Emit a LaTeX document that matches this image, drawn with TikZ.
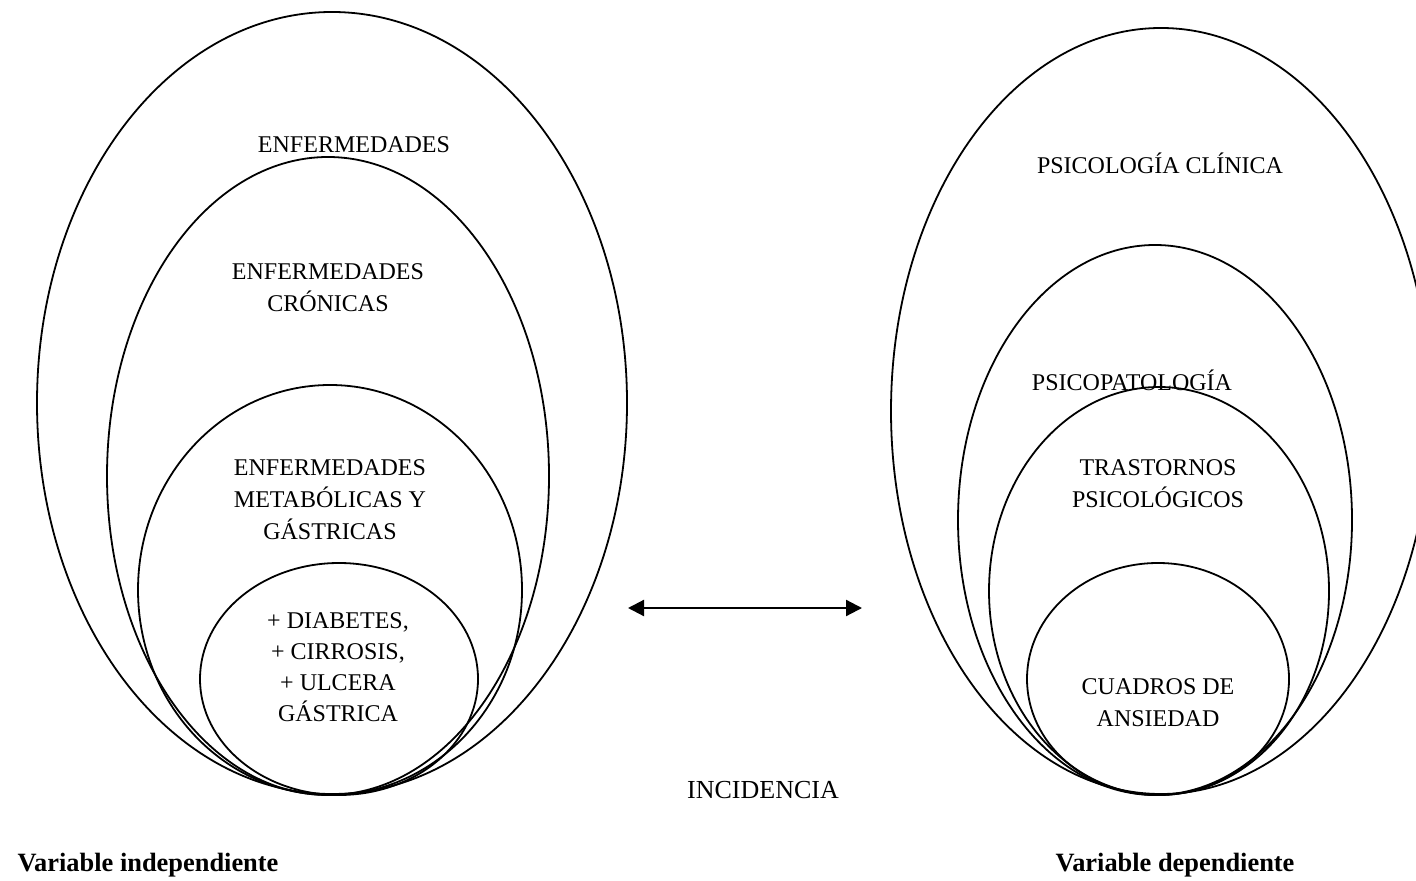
\documentclass[tikz,border=0pt]{standalone}
\usepackage{fontspec}
\setmainfont{Liberation Serif}
\usetikzlibrary{shapes.geometric,arrows.meta}
\tikzset{
  ell/.style={ellipse, draw, line width=0.9pt, inner sep=0pt, outer sep=0pt},
  lbl/.style={align=center, inner sep=0pt, font=\fontsize{12}{16}\selectfont},
  lbltight/.style={align=center, inner sep=0pt, font=\fontsize{12}{15.5}\selectfont},
  midlbl/.style={inner sep=0pt, font=\fontsize{13}{15}\selectfont},
  varlbl/.style={inner sep=0pt, font=\fontsize{13.2}{15}\selectfont\bfseries},
  dblarrow/.style={line width=1.1pt, {Triangle[length=8pt,width=8pt]}-{Triangle[length=8pt,width=8pt]}}
}
\begin{document}
\begin{tikzpicture}[x=0.5pt,y=-0.5pt]
\useasboundingbox (0,0) rectangle (1416,881);
% left set of ellipses
\node[ell, minimum width=295pt, minimum height=391pt] (e1) at (332,403) {};
\node[ell, minimum width=221pt, minimum height=319pt] (e2) at (328,476) {};
\node[ell, minimum width=192pt, minimum height=205pt] (e3) at (330,590) {};
\node[ell, minimum width=139pt, minimum height=116pt] (e4) at (339,679) {};
% right set of ellipses
\node[ell, minimum width=270pt, minimum height=383pt] (r1) at (1161,411) {};
\node[ell, minimum width=197pt, minimum height=275pt] (r2) at (1155,520) {};
\node[ell, minimum width=170pt, minimum height=204pt] (r3) at (1159,591) {};
\node[ell, minimum width=131pt, minimum height=116pt] (r4) at (1158,679) {};
% left labels
\node[lbl] (t1) at (354,145) {ENFERMEDADES};
\node[lbl] (t2) at (328,288) {ENFERMEDADES\\CRÓNICAS};
\node[lbl] (t3) at (330,500) {ENFERMEDADES\\METABÓLICAS Y\\GÁSTRICAS};
\node[lbltight] (t4) at (338,667) {+ DIABETES,\\+ CIRROSIS,\\+ ULCERA\\GÁSTRICA};
% right labels
\node[lbl] (s1) at (1160,163) {PSICOLOGÍA CLÍNICA};
\node[lbl] (s2) at (1132,380) {PSICOPATOLOGÍA};
\node[lbl] (s3) at (1158,484) {TRASTORNOS\\PSICOLÓGICOS};
\node[lbl] (s4) at (1158,703) {CUADROS DE\\ANSIEDAD};
% arrow and middle label
\coordinate (aL) at (628,608);
\coordinate (aR) at (862,608);
\draw[dblarrow] (aL) -- (aR);
\node[midlbl] (inc) at (763,790) {INCIDENCIA};
% variable labels
\node[varlbl] (vi) at (148,865) {Variable independiente};
\node[varlbl] (vd) at (1175,865) {Variable dependiente};
\end{tikzpicture}
\end{document}
